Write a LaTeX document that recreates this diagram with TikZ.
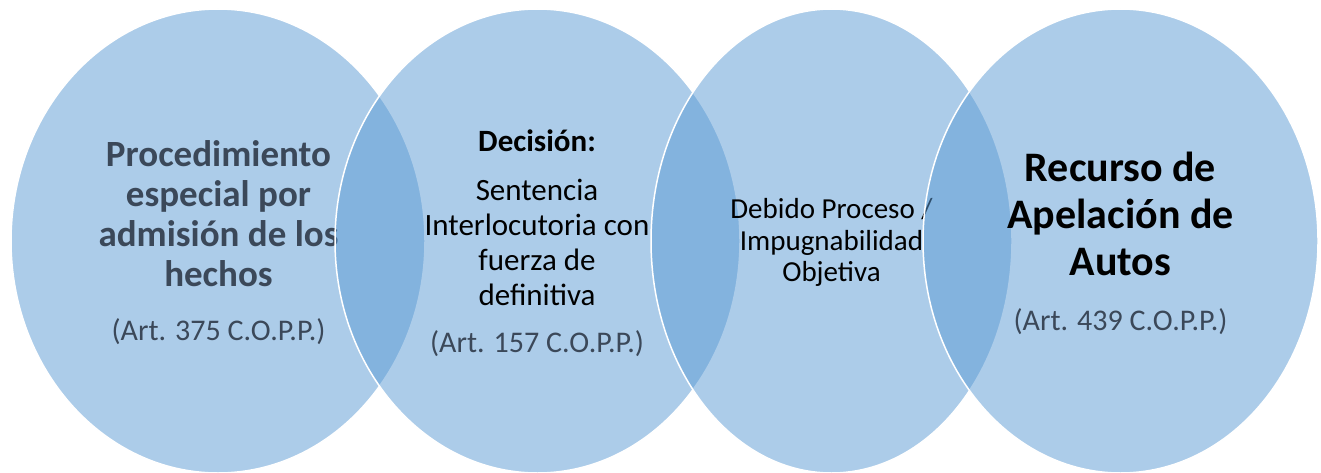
\documentclass[tikz,border=0pt]{standalone}
\usepackage{fontspec}
\setmainfont{Carlito}
\usetikzlibrary{shapes.geometric}
\definecolor{bub}{HTML}{5B9BD5}
\definecolor{slate}{HTML}{3B4859}
\begin{document}
\begin{tikzpicture}[x=1pt,y=-1pt,
  bubble/.style={ellipse, fill=bub, fill opacity=0.5, draw=white, draw opacity=1,
    line width=1.5pt, inner sep=0pt, outer sep=0pt, minimum height=464pt},
  txt/.style={align=center, inner sep=0pt, anchor=base},
  ttlA/.style={txt, text=slate, font=\bfseries\fontsize{37}{40}\selectfont},
  art/.style={txt, text=slate, font=\fontsize{30}{34}\selectfont},
  decA/.style={txt, text=black, font=\bfseries\fontsize{31}{35}\selectfont},
  bodyB/.style={txt, text=black, font=\fontsize{31}{35}\selectfont},
  bodyC/.style={txt, text=black, font=\fontsize{29}{31.7}\selectfont},
  ttlD/.style={txt, text=black, font=\bfseries\fontsize{42}{46.7}\selectfont}]
\fill[white] (0,0) rectangle (1321,473);
\useasboundingbox (0,0) rectangle (1321,473);
% circle 1
\node[bubble, minimum width=414pt] (c1) at (218,241) {};
\node[ttlA] (t1) at (218.5,286.7) {Procedimiento\\especial por\\admisión de los\\hechos};
\node[art] (a1) at (218.5,340.7) {(Art. 375 C.O.P.P.)};
% circle 2
\node[bubble, minimum width=405pt] (c2) at (537.5,241) {};
\node[decA] (d2) at (537,151.7) {Decisión:};
\node[bodyB] (t2) at (537,305) {Sentencia\\Interlocutoria con\\fuerza de\\definitiva};
\node[art] (a2) at (537,352.3) {(Art. 157 C.O.P.P.)};
% circle 3
\node[bubble, minimum width=361pt] (c3) at (831.5,241) {};
\node[bodyC] (t3) at (831.5,281.7) {Debido Proceso /\\Impugnabilidad\\Objetiva};
% circle 4
\node[bubble, minimum width=395pt] (c4) at (1120.5,241) {};
\node[ttlD] (t4) at (1120.5,275) {Recurso de\\Apelación de\\Autos};
\node[art] (a4) at (1120.5,330) {(Art. 439 C.O.P.P.)};
\end{tikzpicture}
\end{document}
